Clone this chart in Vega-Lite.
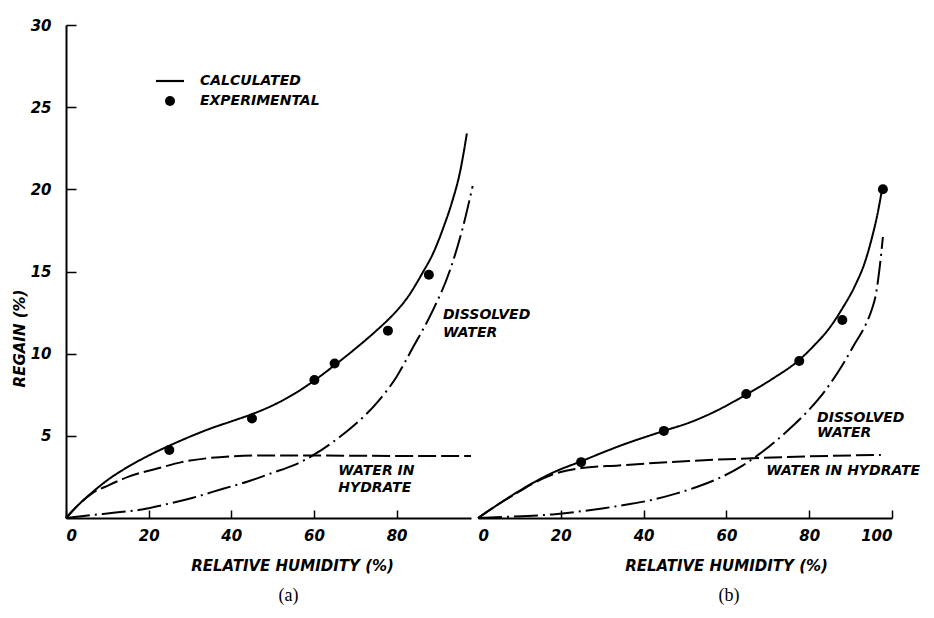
{
  "$schema": "https://vega.github.io/schema/vega-lite/v6.json",
  "background": "white",
  "padding": {"left": 12, "top": 18, "right": 0, "bottom": 0},
  "bounds": "flush",
  "spacing": 7,
  "config": {
    "view": {"stroke": null},
    "axis": {
      "grid": false,
      "domainColor": "black",
      "domainWidth": 2,
      "tickColor": "black",
      "tickWidth": 1.5,
      "labelColor": "black",
      "titleColor": "black",
      "labelFont": "DejaVu Sans",
      "labelFontStyle": "italic",
      "labelFontWeight": "bold",
      "labelFontSize": 15,
      "titleFont": "DejaVu Sans",
      "titleFontStyle": "italic",
      "titleFontWeight": "bold",
      "titleFontSize": 15
    },
    "title": {"font": "Liberation Serif", "fontSize": 18, "fontWeight": "normal", "color": "black"}
  },
  "datasets": {
    "a_curves": [
      {"series": "calculated", "x": 0, "y": 0},
      {"series": "calculated", "x": 3, "y": 0.8},
      {"series": "calculated", "x": 6.3, "y": 1.55},
      {"series": "calculated", "x": 10, "y": 2.3},
      {"series": "calculated", "x": 14.5, "y": 3.04},
      {"series": "calculated", "x": 20, "y": 3.8},
      {"series": "calculated", "x": 25, "y": 4.4},
      {"series": "calculated", "x": 30, "y": 4.95},
      {"series": "calculated", "x": 35, "y": 5.45},
      {"series": "calculated", "x": 40, "y": 5.88},
      {"series": "calculated", "x": 45, "y": 6.32},
      {"series": "calculated", "x": 50, "y": 6.85},
      {"series": "calculated", "x": 55, "y": 7.52},
      {"series": "calculated", "x": 60, "y": 8.35},
      {"series": "calculated", "x": 65, "y": 9.3},
      {"series": "calculated", "x": 70, "y": 10.3},
      {"series": "calculated", "x": 75, "y": 11.38},
      {"series": "calculated", "x": 78, "y": 12.08},
      {"series": "calculated", "x": 80, "y": 12.6},
      {"series": "calculated", "x": 83, "y": 13.55},
      {"series": "calculated", "x": 86, "y": 14.8},
      {"series": "calculated", "x": 89, "y": 16.2},
      {"series": "calculated", "x": 91.5, "y": 17.8},
      {"series": "calculated", "x": 93.5, "y": 19.3},
      {"series": "calculated", "x": 95.3, "y": 21.0},
      {"series": "calculated", "x": 97, "y": 23.4},
      {"series": "hydrate", "x": 0, "y": 0},
      {"series": "hydrate", "x": 3, "y": 0.8},
      {"series": "hydrate", "x": 6.3, "y": 1.5},
      {"series": "hydrate", "x": 10.4, "y": 2.0},
      {"series": "hydrate", "x": 15, "y": 2.5},
      {"series": "hydrate", "x": 22.5, "y": 3.04},
      {"series": "hydrate", "x": 28, "y": 3.4},
      {"series": "hydrate", "x": 34.7, "y": 3.65},
      {"series": "hydrate", "x": 40, "y": 3.75},
      {"series": "hydrate", "x": 46.8, "y": 3.8},
      {"series": "hydrate", "x": 60, "y": 3.8},
      {"series": "hydrate", "x": 80, "y": 3.78},
      {"series": "hydrate", "x": 98, "y": 3.78},
      {"series": "dissolved", "x": 0, "y": 0},
      {"series": "dissolved", "x": 6.3, "y": 0.18},
      {"series": "dissolved", "x": 12, "y": 0.33},
      {"series": "dissolved", "x": 18.4, "y": 0.52},
      {"series": "dissolved", "x": 24, "y": 0.82},
      {"series": "dissolved", "x": 30.5, "y": 1.22},
      {"series": "dissolved", "x": 38, "y": 1.78},
      {"series": "dissolved", "x": 44, "y": 2.22},
      {"series": "dissolved", "x": 50, "y": 2.75},
      {"series": "dissolved", "x": 55, "y": 3.2},
      {"series": "dissolved", "x": 60, "y": 3.85},
      {"series": "dissolved", "x": 65, "y": 4.7},
      {"series": "dissolved", "x": 70, "y": 5.7},
      {"series": "dissolved", "x": 75, "y": 6.95},
      {"series": "dissolved", "x": 80, "y": 8.6},
      {"series": "dissolved", "x": 84, "y": 10.4},
      {"series": "dissolved", "x": 88.5, "y": 12.5},
      {"series": "dissolved", "x": 92.8, "y": 15.0},
      {"series": "dissolved", "x": 96, "y": 17.65},
      {"series": "dissolved", "x": 98.4, "y": 20.2}
    ],
    "a_points": [
      {"kind": "EXPERIMENTAL", "x": 25, "y": 4.14},
      {"kind": "EXPERIMENTAL", "x": 45, "y": 6.05},
      {"kind": "EXPERIMENTAL", "x": 60.1, "y": 8.4},
      {"kind": "EXPERIMENTAL", "x": 65, "y": 9.4},
      {"kind": "EXPERIMENTAL", "x": 77.9, "y": 11.4},
      {"kind": "EXPERIMENTAL", "x": 87.8, "y": 14.8}
    ],
    "a_labels": [
      {"label": "DISSOLVED", "x": 91.2, "y": 12.35},
      {"label": "WATER", "x": 91.2, "y": 11.26},
      {"label": "WATER  IN", "x": 65.9, "y": 2.86},
      {"label": "HYDRATE", "x": 65.9, "y": 1.83}
    ],
    "b_curves": [
      {"series": "calculated", "x": 0, "y": 0},
      {"series": "calculated", "x": 5, "y": 0.85},
      {"series": "calculated", "x": 9.9, "y": 1.64},
      {"series": "calculated", "x": 17.9, "y": 2.74},
      {"series": "calculated", "x": 24.9, "y": 3.45},
      {"series": "calculated", "x": 34.8, "y": 4.44},
      {"series": "calculated", "x": 44.9, "y": 5.3},
      {"series": "calculated", "x": 51, "y": 5.8},
      {"series": "calculated", "x": 57, "y": 6.45},
      {"series": "calculated", "x": 64.7, "y": 7.5},
      {"series": "calculated", "x": 71, "y": 8.45},
      {"series": "calculated", "x": 77.5, "y": 9.6},
      {"series": "calculated", "x": 81, "y": 10.45},
      {"series": "calculated", "x": 85, "y": 11.6},
      {"series": "calculated", "x": 88, "y": 12.75},
      {"series": "calculated", "x": 91, "y": 14.1},
      {"series": "calculated", "x": 93.5, "y": 15.6},
      {"series": "calculated", "x": 95.2, "y": 17.1},
      {"series": "calculated", "x": 96.5, "y": 18.5},
      {"series": "calculated", "x": 97.6, "y": 20.0},
      {"series": "hydrate", "x": 0, "y": 0},
      {"series": "hydrate", "x": 5, "y": 0.85},
      {"series": "hydrate", "x": 9.9, "y": 1.6},
      {"series": "hydrate", "x": 14, "y": 2.2},
      {"series": "hydrate", "x": 18, "y": 2.65},
      {"series": "hydrate", "x": 25, "y": 3.04},
      {"series": "hydrate", "x": 34, "y": 3.2},
      {"series": "hydrate", "x": 51, "y": 3.47},
      {"series": "hydrate", "x": 67.9, "y": 3.65},
      {"series": "hydrate", "x": 80, "y": 3.75},
      {"series": "hydrate", "x": 97.3, "y": 3.84},
      {"series": "dissolved", "x": 0, "y": 0},
      {"series": "dissolved", "x": 6, "y": 0.06},
      {"series": "dissolved", "x": 12, "y": 0.12},
      {"series": "dissolved", "x": 18, "y": 0.22},
      {"series": "dissolved", "x": 24, "y": 0.38},
      {"series": "dissolved", "x": 30, "y": 0.58},
      {"series": "dissolved", "x": 36, "y": 0.82},
      {"series": "dissolved", "x": 42, "y": 1.1},
      {"series": "dissolved", "x": 48, "y": 1.5},
      {"series": "dissolved", "x": 53, "y": 1.9},
      {"series": "dissolved", "x": 58, "y": 2.4},
      {"series": "dissolved", "x": 64, "y": 3.2},
      {"series": "dissolved", "x": 68, "y": 3.9},
      {"series": "dissolved", "x": 72, "y": 4.7},
      {"series": "dissolved", "x": 76, "y": 5.6},
      {"series": "dissolved", "x": 80, "y": 6.6},
      {"series": "dissolved", "x": 84, "y": 7.8},
      {"series": "dissolved", "x": 88, "y": 9.3},
      {"series": "dissolved", "x": 91, "y": 10.6},
      {"series": "dissolved", "x": 93.7, "y": 11.8},
      {"series": "dissolved", "x": 95, "y": 12.6},
      {"series": "dissolved", "x": 96.1, "y": 13.6},
      {"series": "dissolved", "x": 97, "y": 15.2},
      {"series": "dissolved", "x": 97.8, "y": 17.1}
    ],
    "b_points": [
      {"kind": "EXPERIMENTAL", "x": 24.9, "y": 3.4},
      {"kind": "EXPERIMENTAL", "x": 44.9, "y": 5.3},
      {"kind": "EXPERIMENTAL", "x": 64.8, "y": 7.55},
      {"kind": "EXPERIMENTAL", "x": 77.6, "y": 9.55},
      {"kind": "EXPERIMENTAL", "x": 88, "y": 12.05},
      {"kind": "EXPERIMENTAL", "x": 97.8, "y": 20.0}
    ],
    "b_labels": [
      {"label": "DISSOLVED", "x": 81.9, "y": 6.09},
      {"label": "WATER", "x": 81.9, "y": 5.17},
      {"label": "WATER  IN  HYDRATE", "x": 69.6, "y": 2.86}
    ]
  },
  "hconcat": [
    {
      "width": 405,
      "height": 493,
      "title": {"text": "(a)", "orient": "bottom", "dx": 20, "offset": 14},
      "encoding": {
        "x": {
          "field": "x", "type": "quantitative",
          "scale": {"domain": [0, 98], "nice": false, "zero": false},
          "axis": {
            "values": [0, 20, 40, 60, 80],
            "tickSize": -8,
            "labelPadding": 18,
            "labelAngle": 0,
            "title": "RELATIVE HUMIDITY (%)",
            "titleX": 226, "titleY": 47,
            "titleAlign": "center", "titleBaseline": "middle"
          }
        },
        "y": {
          "field": "y", "type": "quantitative",
          "scale": {"domain": [0, 30], "nice": false},
          "axis": {
            "values": [5, 10, 15, 20, 25, 30],
            "tickSize": -10,
            "labelPadding": 25,
            "title": "REGAIN (%)",
            "titleX": -47, "titleY": 313,
            "titleAngle": -90,
            "titleAlign": "center", "titleBaseline": "middle"
          }
        }
      },
      "layer": [
        {
          "data": {"name": "a_curves"},
          "mark": {"type": "line", "color": "black", "strokeWidth": 2, "interpolate": "monotone"},
          "encoding": {
            "strokeDash": {
              "field": "series", "type": "nominal",
              "scale": {"domain": ["calculated", "hydrate", "dissolved"], "range": [[1, 0], [18, 5], [24, 5, 2, 5]]},
              "legend": null
            }
          }
        },
        {
          "data": {"name": "a_points"},
          "mark": {"type": "point", "filled": true, "color": "black", "size": 100, "opacity": 1},
          "encoding": {
            "shape": {
              "field": "kind", "type": "nominal",
              "scale": {"domain": ["CALCULATED", "EXPERIMENTAL"], "range": ["M-2.8,-0.22H2.8V0.22H-2.8Z", "circle"]},
              "legend": {
                "orient": "none", "legendX": 97, "legendY": 49,
                "title": null, "padding": 0,
                "labelFont": "DejaVu Sans", "labelFontStyle": "italic", "labelFontWeight": "bold",
                "labelFontSize": 14, "labelColor": "black",
                "labelOffset": 23, "rowPadding": 6,
                "symbolFillColor": "black", "symbolStrokeWidth": 0, "symbolOpacity": 1
              }
            }
          }
        },
        {
          "data": {"name": "a_labels"},
          "mark": {"type": "text", "align": "left", "baseline": "middle", "font": "DejaVu Sans", "fontSize": 14, "fontStyle": "italic", "fontWeight": "bold", "color": "black"},
          "encoding": {"text": {"field": "label", "type": "nominal"}}
        }
      ]
    },
    {
      "width": 414,
      "height": 493,
      "title": {"text": "(b)", "orient": "bottom", "dx": 44, "offset": 14},
      "encoding": {
        "x": {
          "field": "x", "type": "quantitative",
          "scale": {"domain": [0, 100], "nice": false, "zero": false},
          "axis": {
            "values": [0, 20, 40, 60, 80, 100],
            "tickSize": -8,
            "tickColor": {"condition": {"test": "datum.value == 0", "value": "transparent"}, "value": "black"},
            "labelPadding": 18,
            "labelAngle": 0,
            "title": "RELATIVE HUMIDITY (%)",
            "titleX": 248, "titleY": 47,
            "titleAlign": "center", "titleBaseline": "middle"
          }
        },
        "y": {
          "field": "y", "type": "quantitative",
          "scale": {"domain": [0, 30], "nice": false},
          "axis": null
        }
      },
      "layer": [
        {
          "data": {"name": "b_curves"},
          "mark": {"type": "line", "color": "black", "strokeWidth": 2, "interpolate": "monotone"},
          "encoding": {
            "strokeDash": {
              "field": "series", "type": "nominal",
              "scale": {"domain": ["calculated", "hydrate", "dissolved"], "range": [[1, 0], [18, 5], [24, 5, 2, 5]]},
              "legend": null
            }
          }
        },
        {
          "data": {"name": "b_points"},
          "mark": {"type": "point", "filled": true, "color": "black", "size": 100, "opacity": 1}
        },
        {
          "data": {"name": "b_labels"},
          "mark": {"type": "text", "align": "left", "baseline": "middle", "font": "DejaVu Sans", "fontSize": 14, "fontStyle": "italic", "fontWeight": "bold", "color": "black"},
          "encoding": {"text": {"field": "label", "type": "nominal"}}
        }
      ]
    }
  ]
}
